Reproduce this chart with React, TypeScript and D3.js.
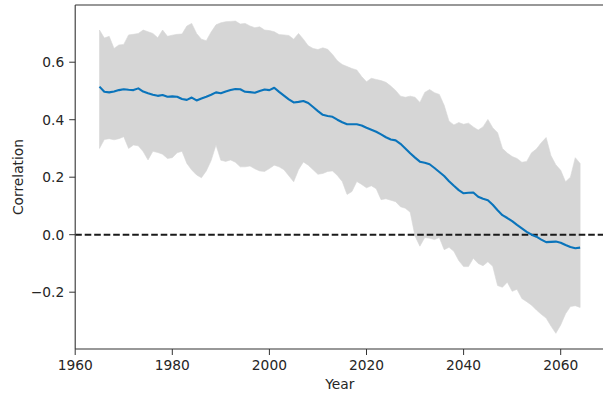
import React from "react";
import * as d3 from "d3";

// Years 1965–2064, one value per year
const startYear = 1965;

const meanCorr = [
  0.515, 0.497, 0.495, 0.498, 0.503, 0.506, 0.504, 0.503, 0.509, 0.498,
  0.492, 0.487, 0.483, 0.486, 0.480, 0.481, 0.480, 0.472, 0.469, 0.477,
  0.467, 0.474, 0.480, 0.487, 0.495, 0.492, 0.498, 0.503, 0.507, 0.506,
  0.497, 0.496, 0.494, 0.500, 0.505, 0.503, 0.511, 0.497, 0.484, 0.471,
  0.460, 0.462, 0.465, 0.458, 0.444, 0.430, 0.417, 0.413, 0.410, 0.400,
  0.391, 0.384, 0.384, 0.384, 0.380, 0.372, 0.365, 0.358, 0.349, 0.339,
  0.331, 0.328, 0.316, 0.300, 0.283, 0.268, 0.254, 0.250, 0.245, 0.232,
  0.218, 0.204, 0.186, 0.170, 0.155, 0.144, 0.146, 0.147, 0.132, 0.125,
  0.120, 0.104, 0.085, 0.068, 0.058, 0.047, 0.034, 0.022, 0.010, 0.000,
  -0.007, -0.017, -0.026, -0.025, -0.024, -0.028, -0.036, -0.043, -0.047, -0.045,
];

const upperCorr = [
  0.712, 0.684, 0.690, 0.648, 0.660, 0.662, 0.695, 0.697, 0.700, 0.712,
  0.706, 0.700, 0.685, 0.712, 0.690, 0.694, 0.697, 0.698, 0.726, 0.735,
  0.700, 0.680, 0.675, 0.705, 0.730, 0.737, 0.741, 0.742, 0.743, 0.733,
  0.735, 0.726, 0.720, 0.723, 0.712, 0.710, 0.706, 0.696, 0.695, 0.693,
  0.680, 0.700, 0.680, 0.657, 0.648, 0.644, 0.650, 0.645, 0.627, 0.605,
  0.592, 0.585, 0.578, 0.573, 0.550, 0.532, 0.544, 0.540, 0.536, 0.530,
  0.517, 0.502, 0.482, 0.478, 0.482, 0.478, 0.460, 0.495, 0.505, 0.494,
  0.488, 0.450, 0.395, 0.382, 0.390, 0.384, 0.388, 0.375, 0.364, 0.375,
  0.401, 0.372, 0.355, 0.300, 0.284, 0.272, 0.265, 0.252, 0.255, 0.285,
  0.298, 0.320, 0.338, 0.275, 0.243, 0.224, 0.184, 0.200, 0.268, 0.248,
];

const lowerCorr = [
  0.300, 0.331, 0.334, 0.330, 0.334, 0.341, 0.300, 0.312, 0.309, 0.289,
  0.260, 0.290, 0.286, 0.280, 0.265, 0.268, 0.285, 0.290, 0.248, 0.225,
  0.208, 0.198, 0.222, 0.258, 0.312, 0.259, 0.255, 0.260, 0.252, 0.236,
  0.236, 0.239, 0.229, 0.222, 0.220, 0.230, 0.242, 0.236, 0.226, 0.205,
  0.184, 0.226, 0.253, 0.242, 0.226, 0.210, 0.213, 0.220, 0.222, 0.206,
  0.185, 0.140, 0.150, 0.185, 0.175, 0.163, 0.170, 0.160, 0.122, 0.125,
  0.120, 0.115, 0.097, 0.092, 0.078, -0.005, -0.040, -0.010, -0.012, -0.017,
  -0.010, -0.052, -0.044, -0.058, -0.090, -0.111, -0.111, -0.082, -0.100, -0.108,
  -0.094, -0.110, -0.177, -0.183, -0.165, -0.197, -0.190, -0.222, -0.233, -0.245,
  -0.262, -0.277, -0.290, -0.318, -0.343, -0.314, -0.275, -0.250, -0.247, -0.253,
];

const xTicks = [1960, 1980, 2000, 2020, 2040, 2060];
const yTicks = [-0.2, 0.0, 0.2, 0.4, 0.6];

const WIDTH = 603;
const HEIGHT = 393;
const FONT = "'DejaVu Sans', Verdana, sans-serif";

export default function App() {
  const left = 75.2;
  const top = 5;
  const bottom = 349;
  const right = left + 109 * 4.855;

  const x = d3.scaleLinear().domain([1960, 2069]).range([left, right]);
  const y = d3.scaleLinear().domain([-0.3976, 0.799]).range([bottom, top]);

  const rows = meanCorr.map((m, i) => ({
    year: startYear + i,
    mean: m,
    lo: lowerCorr[i],
    hi: upperCorr[i],
  }));

  const area = d3
    .area<(typeof rows)[number]>()
    .x((d) => x(d.year))
    .y0((d) => y(d.lo))
    .y1((d) => y(d.hi));

  const line = d3
    .line<(typeof rows)[number]>()
    .x((d) => x(d.year))
    .y((d) => y(d.mean));

  const fmt = (v: number) => {
    const s = v.toFixed(1);
    return v < 0 ? "\u2212" + s.slice(1) : s === "-0.0" ? "0.0" : s;
  };

  const ink = "#262626";

  return (
    <div style={{ position: "absolute", left: 0, top: 0 }}>
      <svg width={WIDTH} height={HEIGHT} style={{ display: "block", background: "#fff" }}>
        <defs>
          <clipPath id="plot-clip">
            <rect x={left} y={top} width={right - left} height={bottom - top} />
          </clipPath>
        </defs>

        <g clipPath="url(#plot-clip)">
          <path d={area(rows) ?? ""} fill="#d6d6d6" stroke="#d6d6d6" strokeWidth={0.6} />
          <line
            x1={left}
            x2={right}
            y1={y(0)}
            y2={y(0)}
            stroke="#1a1a1a"
            strokeWidth={2}
            strokeDasharray="6.6 2.9"
          />
          <path
            d={line(rows) ?? ""}
            fill="none"
            stroke="#0a74bb"
            strokeWidth={2.1}
            strokeLinejoin="round"
          />
        </g>

        {/* spines */}
        <g stroke="#333" strokeWidth={1.1} fill="none">
          <line x1={left} x2={left} y1={top} y2={bottom} />
          <line x1={left} x2={right} y1={bottom} y2={bottom} />
          <line x1={left} x2={right} y1={top} y2={top} />
          <line x1={right} x2={right} y1={top} y2={bottom} />
        </g>

        {/* x axis */}
        <g fontFamily={FONT} fontSize={13.8} fill={ink}>
          {xTicks.map((t) => (
            <g key={t}>
              <line x1={x(t)} x2={x(t)} y1={bottom} y2={bottom + 6} stroke="#333" strokeWidth={1} />
              <text x={x(t)} y={370} textAnchor="middle">
                {t}
              </text>
            </g>
          ))}
          <text x={(left + right) / 2} y={389} textAnchor="middle">
            Year
          </text>
        </g>

        {/* y axis */}
        <g fontFamily={FONT} fontSize={13.8} fill={ink}>
          {yTicks.map((t) => (
            <g key={t}>
              <line x1={left - 6} x2={left} y1={y(t)} y2={y(t)} stroke="#333" strokeWidth={1} />
              <text x={left - 11} y={y(t)} dy="0.35em" textAnchor="end">
                {fmt(t)}
              </text>
            </g>
          ))}
          <text
            transform={`translate(22.5, ${(top + bottom) / 2}) rotate(-90)`}
            textAnchor="middle"
          >
            Correlation
          </text>
        </g>
      </svg>
    </div>
  );
}
